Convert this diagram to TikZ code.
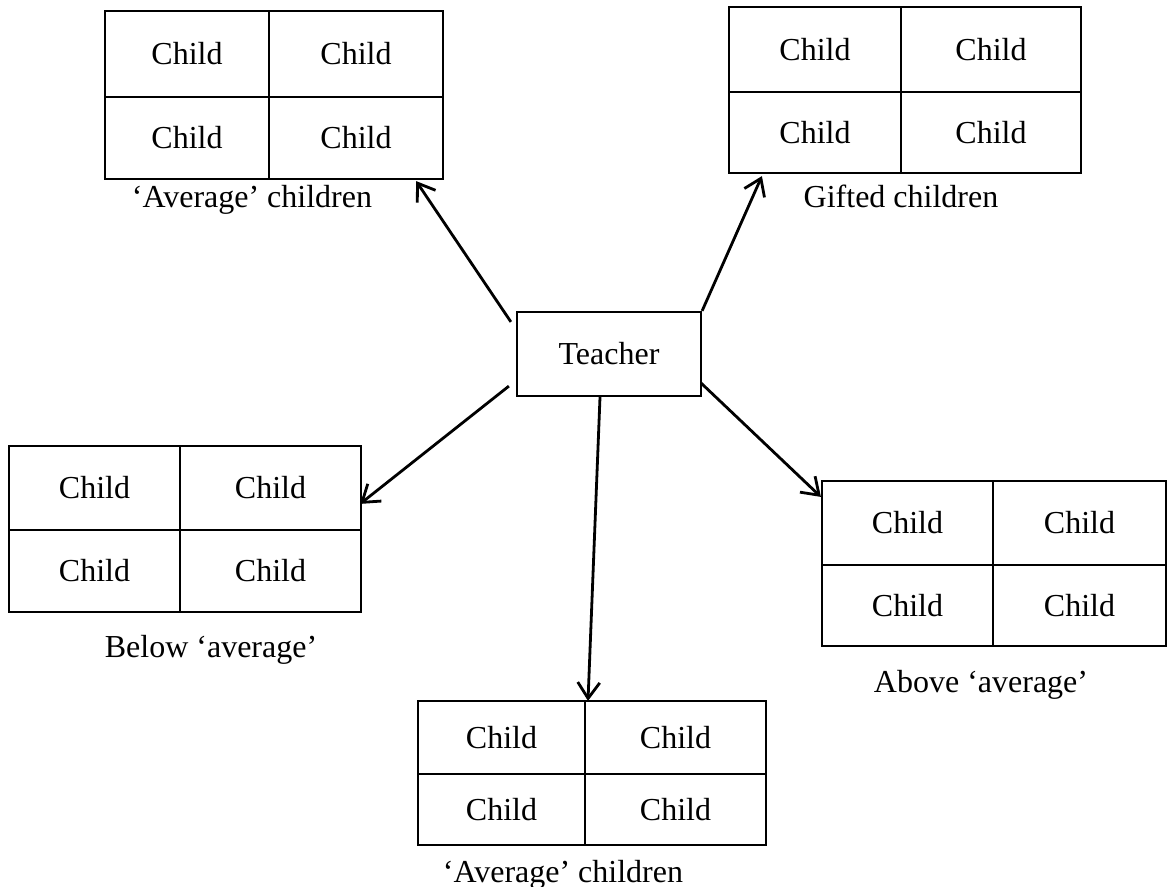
\documentclass[tikz,border=0pt]{standalone}
\usepackage{fontspec}
\setmainfont{Liberation Serif}
\usetikzlibrary{arrows.meta,calc}
\begin{document}
\begin{tikzpicture}[x=0.5pt,y=-0.5pt,
  every node/.style={font=\fontsize{16}{18}\selectfont, inner sep=0pt},
  grid/.style={draw, line width=1.1pt, inner sep=0pt},
  rule/.style={line width=1.1pt},
  link/.style={line width=1.4pt, -{Straight Barb[length=8pt,width=11pt,line width=1.4pt]}},
  caption/.style={anchor=base}]
\useasboundingbox (0,0) rectangle (1172,887);

% teacher in the middle
\node[grid, minimum width=92pt, minimum height=42pt] (teacher) at (609,354) {};
\node at (609,354) {Teacher};

% top-left group
\node[grid, minimum width=169pt, minimum height=84pt] (tl) at (274,95) {};
\draw[rule] (269,11) -- (269,179);
\draw[rule] (105,97) -- (443,97);
\node at (187,54) {Child};
\node at (356,54) {Child};
\node at (187,138) {Child};
\node at (356,138) {Child};
\node[caption] at (252,208) {‘Average’ children};

% top-right group
\node[grid, minimum width=176pt, minimum height=83pt] (tr) at (905,90) {};
\draw[rule] (901,7) -- (901,173);
\draw[rule] (729,92) -- (1081,92);
\node at (815,49.5) {Child};
\node at (991,49.5) {Child};
\node at (815,132.5) {Child};
\node at (991,132.5) {Child};
\node[caption] at (901,208) {Gifted children};

% left group
\node[grid, minimum width=176pt, minimum height=83pt] (lf) at (185,529) {};
\draw[rule] (180,446) -- (180,612);
\draw[rule] (9,530) -- (361,530);
\node at (94.5,488) {Child};
\node at (270.5,488) {Child};
\node at (94.5,571) {Child};
\node at (270.5,571) {Child};
\node[caption] at (211,657) {Below ‘average’};

% right group
\node[grid, minimum width=172pt, minimum height=82.5pt] (rt) at (994,563.5) {};
\draw[rule] (993,481) -- (993,646);
\draw[rule] (822,565) -- (1166,565);
\node at (907.5,523) {Child};
\node at (1079.5,523) {Child};
\node at (907.5,605.5) {Child};
\node at (1079.5,605.5) {Child};
\node[caption] at (981,692) {Above ‘average’};

% bottom group
\node[grid, minimum width=174pt, minimum height=72pt] (bt) at (592,773) {};
\draw[rule] (585,701) -- (585,845);
\draw[rule] (418,774) -- (766,774);
\node at (501.5,737.5) {Child};
\node at (675.5,737.5) {Child};
\node at (501.5,809.5) {Child};
\node at (675.5,809.5) {Child};
\node[caption] at (563,882) {‘Average’ children};

% arrows from the teacher to each group
\draw[link] ($(teacher.north west)+(-5,11)$) -- ($(tl.south east)+(-28,1)$);
\draw[link] (teacher.north east) -- ($(tr.south west)+(34,2)$);
\draw[link] ($(teacher.south west)+(-7,-11)$) -- ($(lf.north east)+(-2,59)$);
\draw[link] ($(teacher.south east)+(-1,-14)$) -- ($(rt.north west)+(0,17)$);
\draw[link] ($(teacher.south)+(-9,0)$) -- ($(bt.north)+(-4,1)$);
\end{tikzpicture}
\end{document}
